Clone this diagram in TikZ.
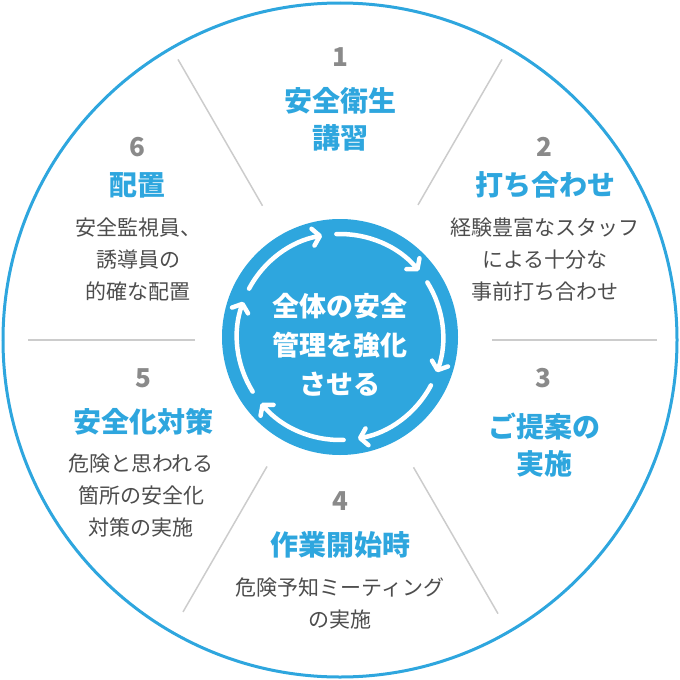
\documentclass[tikz,border=0pt]{standalone}
\usepackage{fontspec}
\setmainfont{Noto Sans CJK JP}
\usepackage{tikz}
\usetikzlibrary{arrows.meta}
\definecolor{ringblue}{HTML}{2EA6DE}
\definecolor{numgray}{HTML}{8A8A8A}
\definecolor{descgray}{HTML}{4D4D4D}
\definecolor{linegray}{HTML}{CCCCCC}
\tikzset{
  numlabel/.style={text=numgray, inner sep=0pt, font=\bfseries\fontsize{26}{30}\selectfont},
  titlelabel/.style={text=ringblue, inner sep=0pt, align=center, font=\bfseries\fontsize{28}{37}\selectfont},
  desclabel/.style={text=descgray, inner sep=0pt, align=center, font=\fontsize{21}{32}\selectfont},
  divider/.style={draw=linegray, line width=1.5pt},
  cyclearrow/.style={draw=white, line width=4.5pt, line cap=round, -{Straight Barb[length=7pt,width=17pt,round]}}
}

\begin{document}
\begin{tikzpicture}[x=1pt,y=-1pt]
\useasboundingbox (0,0) rectangle (680,680);
\coordinate (hub) at (340,340);
\coordinate (core) at (340,337);

% outer ring and dividers
\draw[ringblue, line width=3pt] (hub) circle[radius=337];
\foreach \ang/\ri/\ro in {240/155/324, 300/156/324, 0/152/317, 60/147/316, 120/146/314, 180/145/312}
  \draw[divider] ([shift={(\ang:\ri)}]hub) -- ([shift={(\ang:\ro)}]hub);

% centre disc with the cycle arrows
\fill[ringblue] (core) circle[radius=118];
\foreach \s in {208,268,...,508}
  \draw[cyclearrow] ([shift={(\s:103)}]core) arc[start angle=\s, end angle=\s+52, radius=103];
\node[text=white, align=center, inner sep=0pt, font=\bfseries\fontsize{27}{39}\selectfont] (coretext) at (340,345)
  {全体の安全\\管理を強化\\させる};

% 1
\node[numlabel] (num1) at (340,57) {1};
\node[titlelabel] (title1) at (340,119) {安全衛生\\講習};
% 2
\node[numlabel] (num2) at (544,147) {2};
\node[titlelabel] (title2) at (545,185) {打ち合わせ};
\node[desclabel] (desc2) at (545,260) {経験豊富なスタッフ\\による十分な\\事前打ち合わせ};
% 3
\node[numlabel] (num3) at (543,378) {3};
\node[titlelabel] (title3) at (544,445) {ご提案の\\実施};
% 4
\node[numlabel] (num4) at (340,501) {4};
\node[titlelabel] (title4) at (340,545) {作業開始時};
\node[desclabel] (desc4) at (340,604) {危険予知ミーティング\\の実施};
% 5
\node[numlabel] (num5) at (143,378) {5};
\node[titlelabel] (title5) at (143,422) {安全化対策};
\node[desclabel] (desc5) at (141,496) {危険と思われる\\箇所の安全化\\対策の実施};
% 6
\node[numlabel] (num6) at (137,147) {6};
\node[titlelabel] (title6) at (137,185) {配置};
\node[desclabel] (desc6) at (138,260) {安全監視員、\\誘導員の\\的確な配置};
\end{tikzpicture}
\end{document}
